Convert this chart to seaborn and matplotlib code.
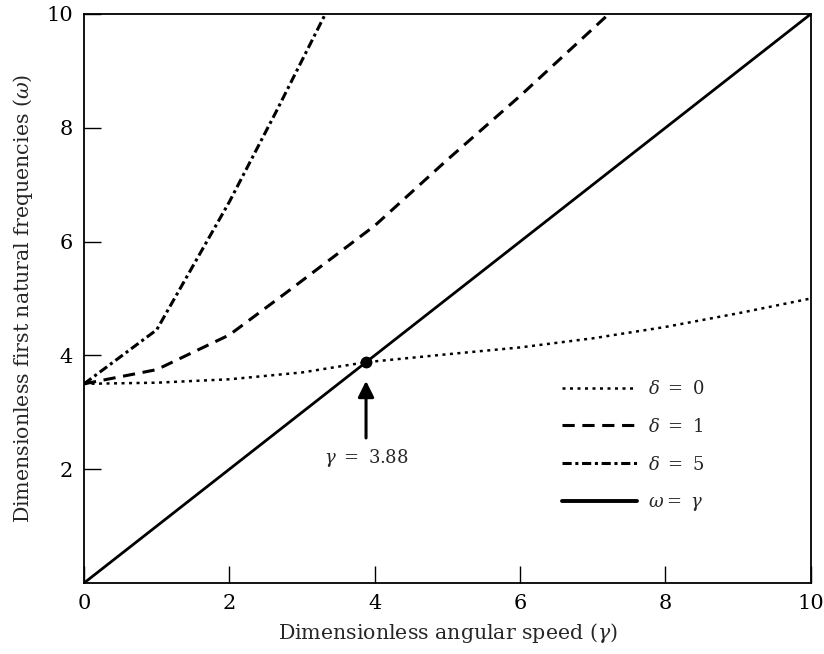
import matplotlib
matplotlib.use("Agg")
import matplotlib.pyplot as plt
from matplotlib.lines import Line2D
import seaborn as sns

# curve data
gamma_d0 = [0, 1, 2, 3, 3.88, 5, 6, 7, 8, 9, 10]
omega_d0 = [3.5, 3.52, 3.58, 3.7, 3.88, 4.02, 4.14, 4.3, 4.5, 4.74, 5.0]
gamma_d1 = [0, 1, 2, 2.8, 4, 5, 6, 7.22]
omega_d1 = [3.5, 3.75, 4.36, 5.12, 6.28, 7.44, 8.56, 10.0]
gamma_d5 = [0, 1, 2, 2.65, 3.32]
omega_d5 = [3.5, 4.45, 6.7, 8.3, 10.0]
gamma_eq = [0, 10]
omega_eq = [0, 10]
gamma_cross = 3.88

sns.set_theme(style="white")
plt.rcParams["font.family"] = ["DejaVu Serif"]
plt.rcParams["mathtext.fontset"] = "dejavuserif"

DOT = (0, (1.2, 1.8))
DASH = (0, (4, 2.5))
DASHDOT = (0, (3, 1.2, 1, 1.2))

fig = plt.figure(figsize=(8.24, 6.54), dpi=100)
ax = fig.add_axes([0.102, 0.1086, 0.882, 0.870])

sns.lineplot(x=gamma_d0, y=omega_d0, ax=ax, color="black", lw=1.8, linestyle=DOT, sort=False)
sns.lineplot(x=gamma_d1, y=omega_d1, ax=ax, color="black", lw=2.2, linestyle=DASH, sort=False)
sns.lineplot(x=gamma_d5, y=omega_d5, ax=ax, color="black", lw=2.2, linestyle=DASHDOT, sort=False)
sns.lineplot(x=gamma_eq, y=omega_eq, ax=ax, color="black", lw=2.0, sort=False)

ax.plot([gamma_cross], [gamma_cross], "o", color="black", ms=7.5, zorder=5)
ax.annotate("", xy=(gamma_cross, 3.6), xytext=(gamma_cross, 2.5),
            arrowprops=dict(arrowstyle="-|>", color="black", lw=2.2, mutation_scale=24))
ax.text(gamma_cross, 2.2, r"$\gamma\ =\ 3.88$", ha="center", va="center", fontsize=13)

ax.set_xlim(0, 10)
ax.set_ylim(0, 10)
ax.set_xticks([0, 2, 4, 6, 8, 10])
ax.set_yticks([2, 4, 6, 8, 10])
ax.tick_params(direction="in", length=12, width=1, labelsize=15, colors="black",
               bottom=True, left=True, pad=8)
for s in ax.spines.values():
    s.set_visible(True)
    s.set_color("black")
    s.set_linewidth(1.3)

ax.set_xlabel(r"Dimensionless angular speed ($\gamma$)", fontsize=14.8, labelpad=6)
ax.set_ylabel(r"Dimensionless first natural frequencies ($\omega$)", fontsize=14.8, labelpad=8)

handles = [
    Line2D([], [], color="black", lw=1.8, linestyle=DOT),
    Line2D([], [], color="black", lw=2.2, linestyle=DASH),
    Line2D([], [], color="black", lw=2.2, linestyle=DASHDOT),
    Line2D([], [], color="black", lw=2.8),
]
labels = [r"$\delta\ =\ 0$", r"$\delta\ =\ 1$", r"$\delta\ =\ 5$", r"$\omega =\ \gamma$"]
ax.legend(handles, labels, loc="upper left", bbox_to_anchor=(0.657, 0.357),
          frameon=False, fontsize=13, handlelength=4.2, handletextpad=0.6,
          labelspacing=1.1, borderpad=0, borderaxespad=0)

fig.savefig("out.png", dpi=100)
